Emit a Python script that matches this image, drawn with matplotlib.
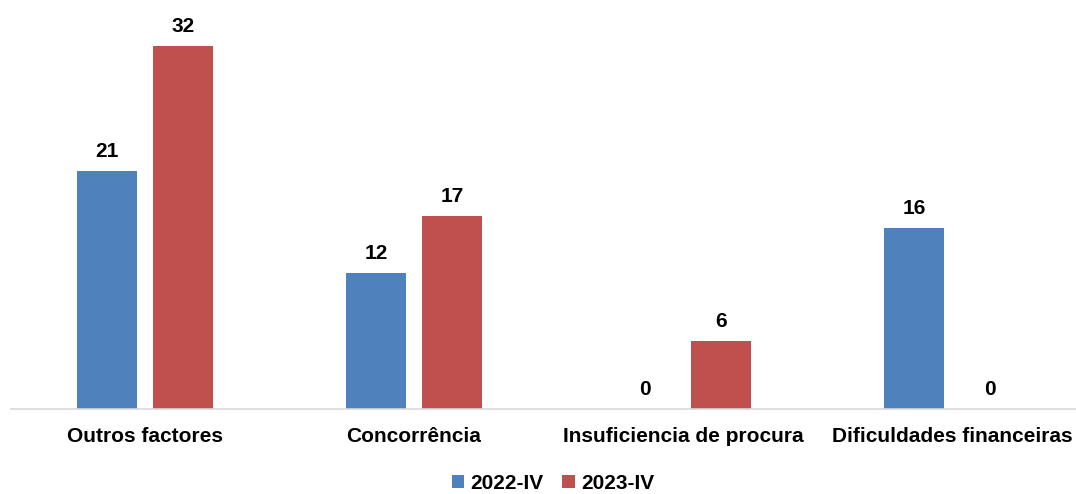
import matplotlib
matplotlib.use("Agg")
import matplotlib.pyplot as plt
import numpy as np

categories = ["Outros factores", "Concorrência", "Insuficiencia de procura", "Dificuldades financeiras"]
series_names = ["2022-IV", "2023-IV"]
values_2022 = [21, 12, 0, 16]
values_2023 = [32, 17, 6, 0]

colors = ["#4F81BD", "#C0504D"]

plt.rcParams['font.family'] = ['Liberation Sans', 'DejaVu Sans']

W, H = 1076, 494
fig = plt.figure(figsize=(W/100, H/100), dpi=100)
ax = fig.add_axes([10.5/W, 85/H, 1076/W, 397/H])

x = np.arange(len(categories))
off = 0.1413
bw = 0.221
for vals, c, d, name in [(values_2022, colors[0], -off, series_names[0]),
                         (values_2023, colors[1], off, series_names[1])]:
    bars = ax.bar(x + d, vals, width=bw, color=c, label=name)
    for xi, v in zip(x + d, vals):
        ax.annotate(str(v), (xi, v), xytext=(0, 7), textcoords="offset points",
                    ha="center", va="bottom", fontsize=15, fontweight="bold")

ax.set_xlim(-0.5, 3.5)
ax.set_ylim(0, 35)
for s in ["top", "right", "left"]:
    ax.spines[s].set_visible(False)
ax.spines["bottom"].set_color("#D9D9D9")
ax.spines["bottom"].set_linewidth(1.2)
ax.set_yticks([])
ax.set_xticks(x)
ax.set_xticklabels(categories, fontsize=15, fontweight="bold")
ax.tick_params(axis="x", length=0, pad=13)

leg = fig.legend(loc="center", bbox_to_anchor=(553/W, 1 - 483/H), ncol=2, frameon=False,
                 prop={"size": 15, "weight": "bold"}, handlelength=0.6, handleheight=0.6,
                 handletextpad=0.3, columnspacing=0.9)

fig.savefig("out.png", dpi=100)
